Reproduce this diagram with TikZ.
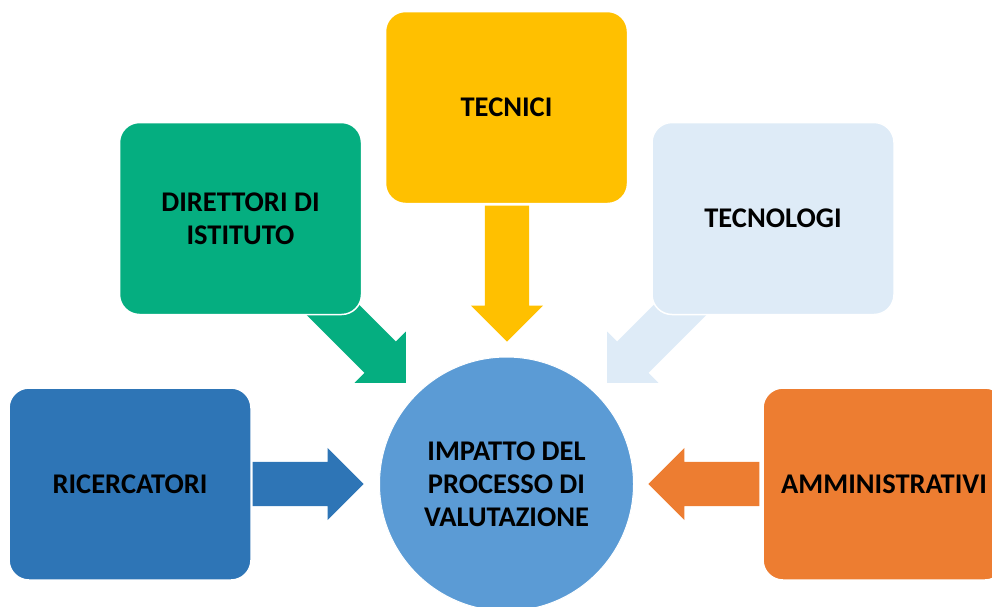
\documentclass[tikz,border=0pt]{standalone}
\usepackage{fontspec}
\setmainfont{Carlito}
\usetikzlibrary{shapes.arrows, positioning}

\definecolor{ricblue}{HTML}{2E75B6}
\definecolor{dirgreen}{HTML}{05AE80}
\definecolor{tecyellow}{HTML}{FFC000}
\definecolor{tlgblue}{HTML}{DEEBF7}
\definecolor{ammorange}{HTML}{ED7D31}
\definecolor{impblue}{HTML}{5B9BD5}

\tikzset{
    group/.style={rectangle, rounded corners=20pt, draw=white, line width=1.5pt,
        minimum width=242pt, minimum height=192pt, align=center, text=black,
        font=\bfseries\fontsize{28.5}{33}\selectfont},
    bigarrow/.style={single arrow, single arrow head extend=14pt, inner xsep=0pt,
        inner ysep=22pt, draw=none, anchor=tip}
}

\begin{document}
\begin{tikzpicture}[x=1pt, y=-1pt]
        \useasboundingbox (0, 0) rectangle (992, 606);

        % arrows towards the centre (placed by their tips)
        \node[bigarrow, fill=ricblue, minimum height=111pt] (a1) at (364, 484) {};
        \node[bigarrow, fill=ammorange, minimum height=111pt, rotate=180] (a5) at (648, 484) {};
        \node[bigarrow, fill=tecyellow, minimum height=136pt, rotate=-90] (a3) at (507, 342) {};
        \node[bigarrow, fill=dirgreen, minimum height=120pt, rotate=-45] (a2) at (406, 383) {};
        \node[bigarrow, fill=tlgblue, minimum height=120pt, rotate=-135] (a4) at (607, 383) {};

        \node[group, fill=ricblue] (ric) at (130, 484) {RICERCATORI};
        \node[group, fill=dirgreen] (dir) at (240.5, 218.5) {DIRETTORI DI\\ISTITUTO};
        \node[group, fill=tecyellow] (tec) at (506.5, 107.5) {TECNICI};
        \node[group, fill=tlgblue] (tlg) at (773, 218.5) {TECNOLOGI};
        \node[group, fill=ammorange] (amm) at (884, 484) {AMMINISTRATIVI};

        \node[circle, fill=impblue, draw=white, line width=1pt, minimum size=254pt,
            align=center, font=\bfseries\fontsize{28.5}{33}\selectfont] (imp) at (506.5, 484)
            {IMPATTO DEL\\PROCESSO DI\\VALUTAZIONE};
\end{tikzpicture}
\end{document}
